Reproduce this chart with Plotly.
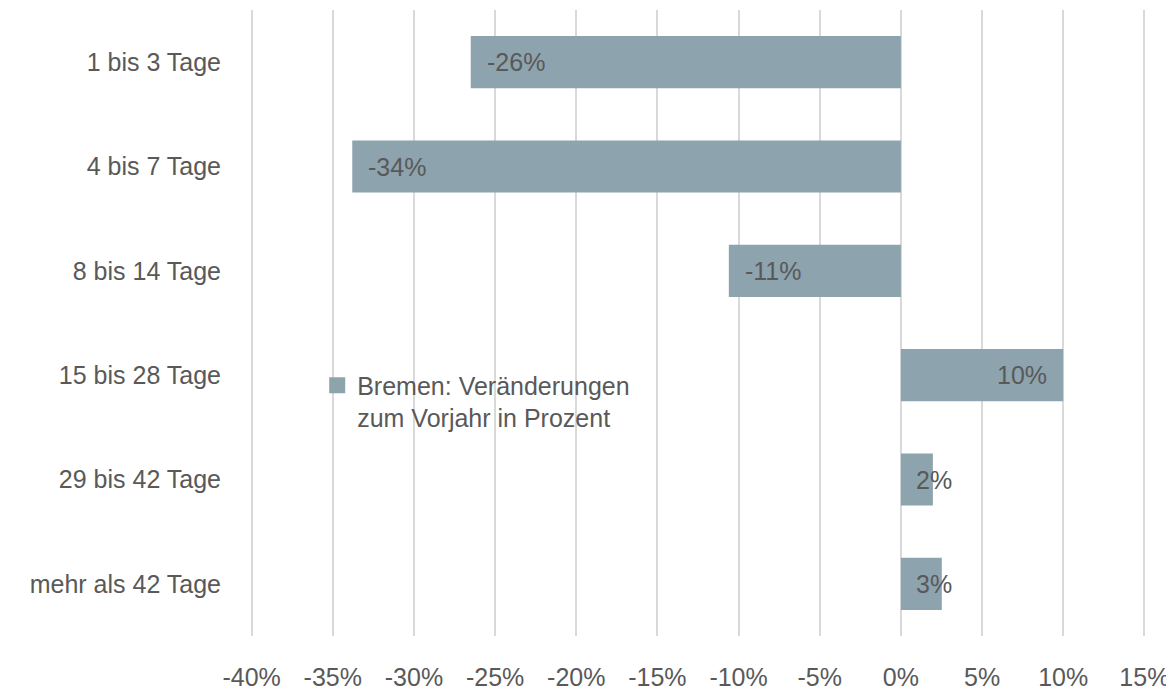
import plotly.graph_objects as go

categories = ["1 bis 3 Tage", "4 bis 7 Tage", "8 bis 14 Tage", "15 bis 28 Tage", "29 bis 42 Tage", "mehr als 42 Tage"]
values = [-26.5, -33.8, -10.6, 10.0, 1.97, 2.52]
labels = ["-26%", "-34%", "-11%", "10%", "2%", "3%"]
series_name = "Bremen: Veränderungen<br>zum Vorjahr in Prozent"
tick_vals = [-40, -35, -30, -25, -20, -15, -10, -5, 0, 5, 10, 15]
tick_text = ["-40%", "-35%", "-30%", "-25%", "-20%", "-15%", "-10%", "-5%", "0%", "5%", "10%", "15%"]

FONT = "Liberation Sans, Arial, sans-serif"
FS = 25
TXT = "#595959"
BAR = "#8DA3AE"

fig = go.Figure()
fig.add_trace(go.Bar(
    y=categories, x=values, orientation="h",
    marker=dict(color=BAR, line=dict(width=0)),
    name=series_name, showlegend=False, hoverinfo="skip",
))
# legend entry with a larger square symbol
fig.add_trace(go.Scatter(
    x=[None], y=[None], mode="markers",
    marker=dict(symbol="square", size=16, color=BAR),
    name=series_name, showlegend=True, hoverinfo="skip",
))

annotations = []
for cat, v, lab in zip(categories, values, labels):
    if v < 0:
        ann = dict(x=v, xanchor="left", xshift=14)
    elif v >= 5:
        ann = dict(x=v, xanchor="right", xshift=-14)
    else:
        ann = dict(x=0, xanchor="left", xshift=13)
    ann.update(y=cat, xref="x", yref="y", text=lab, showarrow=False,
               yanchor="middle", font=dict(family=FONT, size=FS, color=TXT))
    annotations.append(ann)

fig.update_layout(
    width=1174, height=692,
    margin=dict(l=242, r=36, t=2, b=64),
    paper_bgcolor="white", plot_bgcolor="white",
    bargap=0.5,
    font=dict(family=FONT, size=FS, color=TXT),
    showlegend=True,
    legend=dict(x=0.075, y=0.437, xanchor="left", yanchor="top",
                bgcolor="rgba(0,0,0,0)", valign="top", itemsizing="trace",
                font=dict(family=FONT, size=FS, color=TXT)),
    annotations=annotations,
)
fig.update_xaxes(range=[-40.1, 15.1], tickvals=tick_vals, ticktext=tick_text,
                 showgrid=True, gridcolor="#D9D9D9", gridwidth=2,
                 zeroline=False, showline=False, ticks="", automargin=False,
                 ticklabelstandoff=24,
                 tickfont=dict(family=FONT, size=FS, color=TXT))
fig.update_yaxes(autorange="reversed", showgrid=False, zeroline=False,
                 showline=False, ticks="", ticklabelstandoff=28, automargin=False,
                 tickfont=dict(family=FONT, size=FS, color=TXT))

fig.write_html("out.html")
